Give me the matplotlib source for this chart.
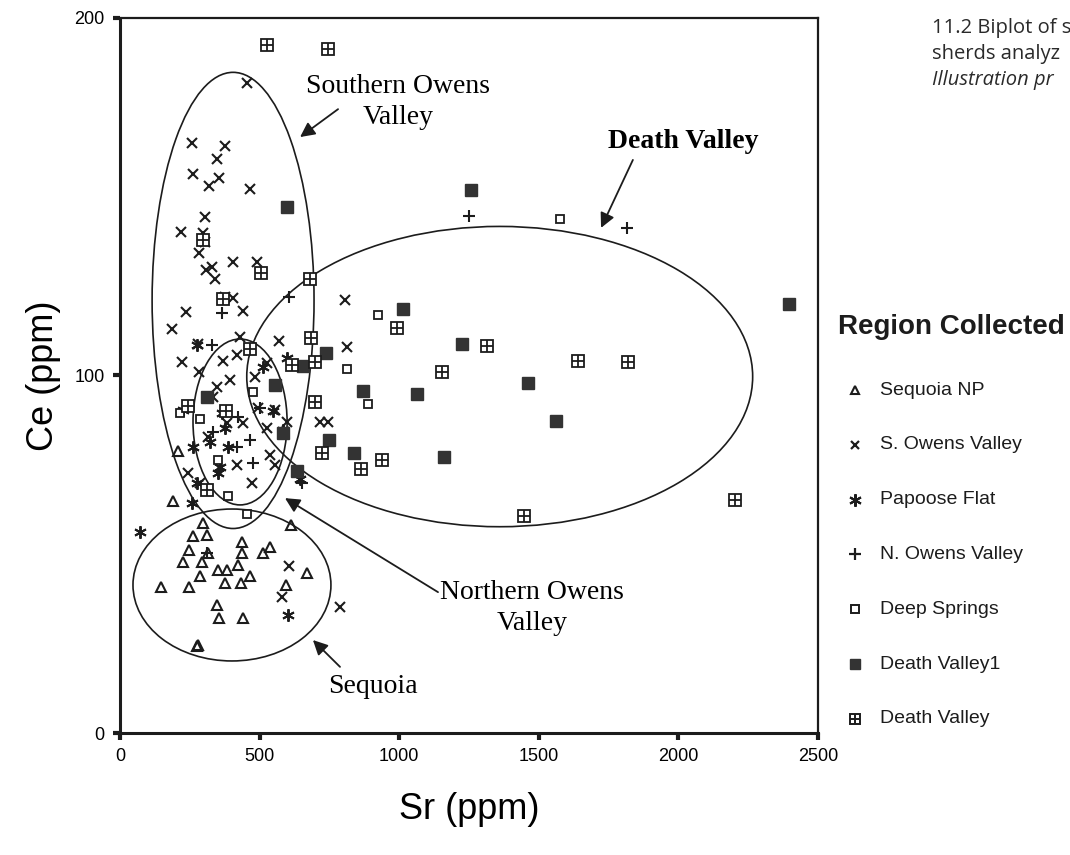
import numpy as np
import matplotlib.pyplot as plt
from matplotlib.patches import Ellipse
from matplotlib.lines import Line2D

# Datos (Sr ppm, Ce ppm)
sequoia_sr = [297, 261, 312, 247, 315, 226, 294, 437, 437, 537, 512, 612, 351, 383, 423,
              287, 466, 147, 247, 376, 433, 595, 670, 347, 355, 441, 276, 280, 208, 190]
sequoia_ce = [58.7, 55, 55.4, 51.2, 50.3, 47.8, 47.8, 53.4, 50.3, 52, 50.3, 58.2, 45.6, 45.6, 47,
              43.9, 43.9, 40.8, 40.8, 42, 42, 41.4, 44.8, 35.8, 32.2, 32.2, 24.3, 24.6, 78.9, 64.9]

sowens_sr = [455, 258, 376, 347, 261, 355, 319, 466, 304, 218, 297, 304, 283, 405, 491, 329,
             308, 340, 405, 376, 236, 441, 186, 430, 569, 279, 806, 813, 716, 745, 222, 283,
             369, 419, 527, 484, 394, 347, 555, 494, 441, 527, 598, 537, 555, 473, 419, 244,
             287, 383, 333, 315, 605, 580, 788]
sowens_ce = [181.8, 165, 164.2, 160.6, 156.4, 155.2, 153, 152.2, 144.3, 140, 139.9, 137.3,
             134.3, 131.7, 131.7, 130.3, 129.5, 127, 121.7, 122, 117.8, 118, 113, 110.8,
             109.6, 108.8, 121, 108, 87, 87, 103.8, 101, 104, 105.7, 103.5, 99.6, 98.7,
             96.8, 90.3, 91, 86.7, 85.3, 87, 77.8, 75, 70, 75, 72.7, 70, 86.7, 94, 82.8,
             46.7, 38, 35.2]

papoose_sr = [72, 602, 258, 276, 351, 365, 261, 276, 512, 598, 548, 584, 376, 387, 358,
              322, 226, 645]
papoose_ce = [56.2, 33, 64.3, 70, 72.7, 89.5, 80, 108.5, 102.4, 105, 90, 84.8, 85.3, 80,
              74.4, 81.4, 90.3, 71]

nowens_sr = [1250, 1816, 605, 365, 330, 466, 477, 419, 333, 652, 501, 423, 312]
nowens_ce = [144.6, 141.3, 122, 117.5, 108.5, 82, 75.5, 80, 84.2, 70, 91, 88.4, 50.3]

deep_sr = [1576, 925, 812, 889, 477, 287, 352, 387, 455, 215]
deep_ce = [143.8, 117, 101.8, 92, 95.4, 87.8, 76.4, 66.3, 61.3, 89.5]

dv1_sr = [598, 1257, 2396, 1014, 738, 655, 870, 1064, 749, 838, 1160, 555, 584, 634, 1225,
          1461, 1562, 312]
dv1_ce = [147, 152, 120, 118.6, 106.3, 102.7, 95.7, 94.8, 82, 78.3, 77.1, 97.3, 83.9, 73.3,
          108.8, 97.9, 87.3, 94]

dv_sr = [527, 745, 505, 680, 684, 992, 464, 297, 370, 1315, 1153, 1640, 1820, 1447, 2203,
         698, 616, 698, 723, 863, 938, 378, 245, 312]
dv_ce = [192.4, 191.3, 128.7, 127, 110.5, 113.3, 107.4, 138, 121.5, 108.3, 101, 104, 103.8,
         60.7, 65.2, 103.8, 103, 92.6, 78.3, 73.8, 76.4, 90, 91.5, 68]

# elipses: centro Sr, centro Ce, ancho, alto
elipses = [(405, 121, 580, 127.6),
           (430, 87, 337, 46.4),
           (1360, 99.7, 1812, 84),
           (401, 41.4, 709, 42.5)]

negro = '#1c1c1c'
sans = 'Liberation Sans'
serif = 'Liberation Serif'

fig = plt.figure(figsize=(10.7, 8.55), dpi=100)
ax = fig.add_axes([120 / 1070, 122 / 855, 698 / 1070, 715 / 855])

for cx, cy, w, h in elipses:
    ax.add_patch(Ellipse((cx, cy), w, h, fill=False, ec=negro, lw=1.2))

ax.plot(sequoia_sr, sequoia_ce, ls='none', marker='^', ms=7.5, mfc='none', mec=negro, mew=1.5)
ax.plot(sowens_sr, sowens_ce, ls='none', marker='x', ms=7, mec=negro, mew=1.5)
ax.plot(papoose_sr, papoose_ce, ls='none', marker=(6, 2, 0), ms=9, mec=negro, mew=1.4)
ax.plot(nowens_sr, nowens_ce, ls='none', marker='+', ms=9, mec=negro, mew=1.5)
ax.plot(deep_sr, deep_ce, ls='none', marker='s', ms=6, mfc='white', mec=negro, mew=1.3)
ax.plot(dv1_sr, dv1_ce, ls='none', marker='s', ms=8, mfc='#333333', mec='#333333', mew=1)
ax.plot(dv_sr, dv_ce, ls='none', marker='s', ms=9, mfc='white', mec=negro, mew=1.3)
ax.plot(dv_sr, dv_ce, ls='none', marker='+', ms=8, mec=negro, mew=1.3)

ax.set_xlim(0, 2500)
ax.set_ylim(0, 200)
ax.set_xticks([0, 500, 1000, 1500, 2000, 2500])
ax.set_yticks([0, 100, 200])
ax.tick_params(direction='out', length=5, width=3, color=negro, labelsize=13, pad=6)
for lab in ax.get_xticklabels() + ax.get_yticklabels():
    lab.set_fontfamily(sans)
for s in ['left', 'bottom']:
    ax.spines[s].set_linewidth(2.2)
for s in ['top', 'right']:
    ax.spines[s].set_linewidth(1.6)
for s in ax.spines.values():
    s.set_color(negro)

ax.set_xlabel('Sr (ppm)', fontsize=26, family=sans, labelpad=19)
ax.set_ylabel('Ce (ppm)', fontsize=26, family=sans, labelpad=10)

# anotaciones
flecha = dict(arrowstyle='-|>', lw=1.3, color=negro, mutation_scale=22, shrinkA=0, shrinkB=0)
ax.text(996, 176.5, 'Southern Owens\nValley', ha='center', va='center', fontsize=20,
        family=serif, linespacing=1.3)
ax.annotate('', xy=(645, 166.7), xytext=(781, 174.5), arrowprops=flecha)
ax.text(2016, 165.5, 'Death Valley', ha='center', va='center', fontsize=20,
        family=serif, fontweight='bold')
ax.annotate('', xy=(1723, 141.3), xytext=(1837, 160.3), arrowprops=flecha)
ax.text(1475, 35.0, 'Northern Owens\nValley', ha='center', va='center', fontsize=20,
        family=serif, linespacing=1.3)
ax.annotate('', xy=(591, 65.7), xytext=(1139, 39.4), arrowprops=flecha)
ax.text(906, 13.1, 'Sequoia', ha='center', va='center', fontsize=20, family=serif)
ax.annotate('', xy=(691, 26), xytext=(788, 18.5), arrowprops=flecha)

# leyenda
fig.text(838 / 1070, 1 - 327 / 855, 'Region Collected', fontsize=20, family=sans,
         fontweight='bold', va='center', ha='left', color=negro)
series = ['Sequoia NP', 'S. Owens Valley', 'Papoose Flat', 'N. Owens Valley',
          'Deep Springs', 'Death Valley1', 'Death Valley']
estilos = [[dict(marker='^', ms=6, mfc='none', mec=negro, mew=1.5)],
           [dict(marker='x', ms=6, mec=negro, mew=1.6)],
           [dict(marker=(6, 2, 0), ms=9, mec=negro, mew=1.5)],
           [dict(marker='+', ms=9, mec=negro, mew=1.6)],
           [dict(marker='s', ms=5.5, mfc='white', mec=negro, mew=1.4)],
           [dict(marker='s', ms=7.5, mfc='#333333', mec='#333333')],
           [dict(marker='s', ms=7.5, mfc='white', mec=negro, mew=1.4),
            dict(marker='+', ms=6.5, mec=negro, mew=1.4)]]
for i, (nombre, est) in enumerate(zip(series, estilos)):
    yy = 1 - (390 + i * 54.8) / 855
    for e in est:
        fig.add_artist(Line2D([855 / 1070], [yy], transform=fig.transFigure, ls='none', **e))
    fig.text(880 / 1070, yy, nombre, fontsize=14, family=sans, va='center', ha='left',
             color=negro)

# pie de figura (recortado en el borde)
caption = ['11.2 Biplot of s', 'sherds analyz', 'Illustration pr']
for i, linea in enumerate(caption):
    fig.text(932 / 1070, 1 - (28 + i * 26) / 855, linea, fontsize=14.5, family='Open Sans',
             va='center', ha='left', color='#2a2a2a', style='italic' if i == 2 else 'normal')

fig.savefig('out.png', dpi=100, facecolor='white')
